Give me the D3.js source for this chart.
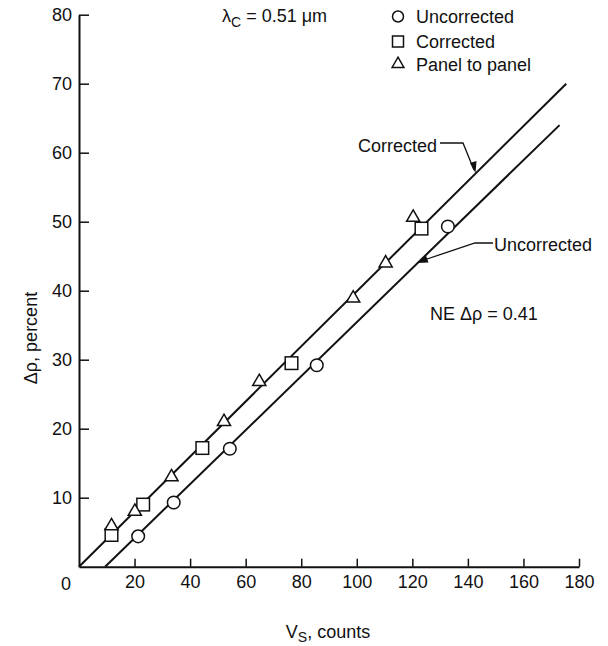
<!DOCTYPE html>
<html><head><meta charset="utf-8">
<script src="https://cdn.jsdelivr.net/npm/d3@7"></script>
<style>
body{margin:0;background:#fff;}
text{font-family:"Liberation Sans","Arial",sans-serif;fill:#111;}
</style></head>
<body><svg id="c" width="608" height="646"></svg>
<script>
// Data
const uncorrected = [[21.3,4.4],[34.1,9.3],[54.3,17.1],[85.6,29.2],[132.8,49.3]];
const corrected = [[11.7,4.6],[23.1,9.0],[44.4,17.2],[76.5,29.5],[123.3,49.0]];
const panel = [[11.7,5.9],[20.1,8.0],[33.3,13.0],[52.2,21.0],[64.9,26.8],[98.7,38.9],[110.4,44.0],[120.3,50.6]];
const correctedFit = [[0,0],[175.4,70.0]];
const uncorrectedFit = [[9.4,0],[173,64.0]];
const xTicks = [20,40,60,80,100,120,140,160,180];
const yTicks = [10,20,30,40,50,60,70,80];

const svg = d3.select("#c");
const x = d3.scaleLinear().domain([0,180]).range([79,579]);
const y = d3.scaleLinear().domain([0,80]).range([566.7,14.7]);

// axes
const xa = svg.append("g").attr("transform",`translate(0,${y(0)})`)
  .call(d3.axisBottom(x).tickValues(xTicks).tickSizeInner(-8).tickSizeOuter(0).tickPadding(9));
const ya = svg.append("g").attr("transform",`translate(${x(0)},0)`)
  .call(d3.axisLeft(y).tickValues(yTicks).tickSizeInner(-10).tickSizeOuter(0).tickPadding(7));
[xa,ya].forEach(a=>{
  a.selectAll("path").attr("stroke","#111").attr("stroke-width",2);
  a.selectAll("line").attr("stroke","#111").attr("stroke-width",1.5);
  a.selectAll("text").style("font-size","18px").attr("fill","#111");
});
svg.append("text").attr("x",x(0)-13).attr("y",y(0)+23).attr("text-anchor","middle").style("font-size","18px").text("0");

// fit lines
const line = d3.line().x(d=>x(d[0])).y(d=>y(d[1]));
[correctedFit,uncorrectedFit].forEach(d=>{
  svg.append("path").attr("d",line(d)).attr("fill","none").attr("stroke","#111").attr("stroke-width",2);
});

// markers
const mk = {stroke:"#111","stroke-width":1.5,fill:"#fff"};
function style(s){Object.entries(mk).forEach(([k,v])=>s.attr(k,v));return s;}
style(svg.append("g").selectAll("circle").data(uncorrected).join("circle")
  .attr("cx",d=>x(d[0])).attr("cy",d=>y(d[1])).attr("r",6.3));
style(svg.append("g").selectAll("rect").data(corrected).join("rect")
  .attr("x",d=>x(d[0])-6.3).attr("y",d=>y(d[1])-6.3).attr("width",12.6).attr("height",12.6));
const tri = d3.symbol().type(d3.symbolTriangle).size(75);
style(svg.append("g").selectAll("path").data(panel).join("path")
  .attr("transform",d=>`translate(${x(d[0])},${y(d[1])})`).attr("d",tri));

// legend
const lg = svg.append("g");
style(lg.append("circle").attr("cx",398).attr("cy",16.5).attr("r",5.5));
style(lg.append("rect").attr("x",392.5).attr("y",36).attr("width",11).attr("height",11));
style(lg.append("path").attr("transform","translate(398,64)").attr("d",d3.symbol().type(d3.symbolTriangle).size(60)));
[["Uncorrected",23],["Corrected",47.5],["Panel to panel",71]].forEach(([t,yy])=>{
  lg.append("text").attr("x",416).attr("y",yy).style("font-size","18px").text(t);
});

// lambda annotation
const lt = svg.append("text").attr("x",222).attr("y",22).style("font-size","18px");
lt.append("tspan").text("λ");
lt.append("tspan").attr("dy",5).style("font-size","14px").text("C");
lt.append("tspan").attr("dy",-5).text(" = 0.51 μm");

// Corrected label + leader
svg.append("text").attr("x",358).attr("y",152).style("font-size","18px").text("Corrected");
svg.append("path").attr("d","M440,143 L463,143 L474,170").attr("fill","none").attr("stroke","#111").attr("stroke-width",1.3);
svg.append("path").attr("d","M475.5,173 L470,163 L476.5,161 Z").attr("fill","#111");
// Uncorrected label + leader
svg.append("text").attr("x",494).attr("y",251).style("font-size","18px").text("Uncorrected");
svg.append("path").attr("d","M493,243 L475,243 L424,260").attr("fill","none").attr("stroke","#111").attr("stroke-width",1.3);
svg.append("path").attr("d","M417,263 L426,255.5 L428.5,262.5 Z").attr("fill","#111");

svg.append("text").attr("x",430).attr("y",320).style("font-size","18px").text("NE Δρ = 0.41");

// axis titles
svg.append("text").attr("transform","translate(37,338) rotate(-90)").attr("text-anchor","middle").style("font-size","18px").text("Δρ, percent");
const xt = svg.append("text").attr("x",328).attr("y",638).attr("text-anchor","middle").style("font-size","18px");
xt.append("tspan").text("V");
xt.append("tspan").attr("dy",4).style("font-size","14px").text("S");
xt.append("tspan").attr("dy",-4).text(", counts");
</script></body></html>
